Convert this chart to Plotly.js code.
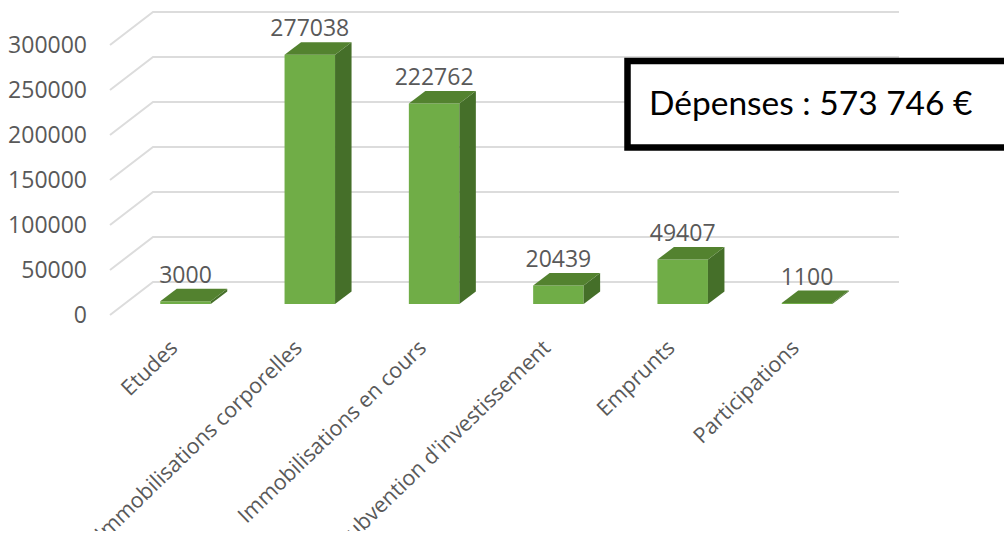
<!DOCTYPE html>
<html>
<head>
<meta charset="utf-8">
<script src="https://cdn.plot.ly/plotly-3.0.1.min.js"></script>
<style>html,body{margin:0;padding:0;background:#fff;overflow:hidden}#chart{width:1004px;height:537px}</style>
</head>
<body>
<div id="chart"></div>
<script>
// Data
const categories = ["Etudes", "Immobilisations corporelles", "Immobilisations en cours", "Subvention d'investissement", "Emprunts", "Participations"];
const depenses = [3000, 277038, 222762, 20439, 49407, 1100];
const axisTicks = [0, 50000, 100000, 150000, 200000, 250000, 300000];
const calloutText = "Dépenses : 573 746 €";

// Page geometry, in pixels
const W = 1004, H = 537, plotLeft = 88, plotBottom = 330;
const pxPerCat = 124.3, firstCatPx = 185.5, barPx = 50.5;
const pxPerUnit = 0.0009, tickZeroPx = 315, barZeroPx = 304;
const depthX = 16.5, depthY = 12.5;      // bar depth
const wallX0 = 110, wallX1 = 153, wallX2 = 899, wallRise = 33; // floor wall

const dxCat = p => p / pxPerCat;
const dyVal = p => p / pxPerUnit;
const xPx = p => (p - firstCatPx) / pxPerCat;
const idx = categories.map((_, i) => i);
const halfW = dxCat(barPx / 2), bw = 2 * halfW;

const GREEN = "#70ad47", TOP = "#53822f", SIDE = "#456f29", GRID = "#dcdcdc", TXT = "#595959";
const FONT = "Open Sans";

const traces = [];
// Gridlines: wall slant then back wall
axisTicks.forEach(t => traces.push({
  type: "scatter", mode: "lines", xaxis: "x", yaxis: "y",
  x: [xPx(wallX0), xPx(wallX1), xPx(wallX2)],
  y: [t, t + dyVal(wallRise), t + dyVal(wallRise)],
  line: {color: GRID, width: 2}, hoverinfo: "skip", showlegend: false
}));
// Front faces
traces.push({
  type: "bar", xaxis: "x", yaxis: "y2", x: idx, y: depenses, width: bw,
  marker: {color: GREEN, line: {width: 0}}, showlegend: false, hoverinfo: "x+y"
});
// Side and top faces
depenses.forEach((v, i) => {
  const l = i - halfW, r = i + halfW, dx = dxCat(depthX), dy = dyVal(depthY);
  traces.push({
    type: "scatter", mode: "lines", fill: "toself", fillcolor: SIDE, xaxis: "x", yaxis: "y2",
    x: [r, r, r + dx, r + dx, r], y: [0, v, v + dy, dy, 0],
    line: {width: 0, color: SIDE}, hoverinfo: "skip", showlegend: false
  });
  traces.push({
    type: "scatter", mode: "lines", fill: "toself", fillcolor: TOP, xaxis: "x", yaxis: "y2",
    x: [l, r, r + dx, l + dx, l], y: [v, v, v + dy, v + dy, v],
    line: {width: 0, color: TOP}, hoverinfo: "skip", showlegend: false
  });
});
// Data labels
traces.push({
  type: "scatter", mode: "text", xaxis: "x", yaxis: "y2",
  x: idx, y: depenses.map(v => v + dyVal(depthY)), text: depenses.map(String),
  textposition: "top center", textfont: {family: FONT, size: 23, color: TXT},
  hoverinfo: "skip", showlegend: false
});

const plotW = W - plotLeft;
const layout = {
  width: W, height: H,
  margin: {l: plotLeft, r: 0, t: 0, b: H - plotBottom, pad: 0},
  paper_bgcolor: "#fff", plot_bgcolor: "#fff",
  showlegend: false,
  font: {family: FONT, color: TXT},
  xaxis: {
    range: [xPx(plotLeft), xPx(W)], tickmode: "array", tickvals: idx, ticktext: categories,
    tickangle: -44, tickfont: {family: FONT, size: 21.5, color: TXT}, ticklabelshift: -14,
    showgrid: false, zeroline: false, showline: false, ticks: "", automargin: false
  },
  yaxis: {
    range: [-(plotBottom - tickZeroPx) / pxPerUnit, tickZeroPx / pxPerUnit],
    tickmode: "array", tickvals: axisTicks, ticktext: axisTicks.map(String),
    tickfont: {family: FONT, size: 23, color: TXT},
    showgrid: false, zeroline: false, showline: false, ticks: "", automargin: false
  },
  yaxis2: {
    overlaying: "y", range: [-(plotBottom - barZeroPx) / pxPerUnit, barZeroPx / pxPerUnit],
    visible: false, showgrid: false, zeroline: false
  },
  shapes: [{
    type: "rect", layer: "above", xref: "paper", yref: "paper",
    x0: (627.5 - plotLeft) / plotW, x1: (1030 - plotLeft) / plotW,
    y0: 1 - 147.5 / plotBottom, y1: 1 - 61 / plotBottom,
    fillcolor: "#fff", line: {color: "#000", width: 6.5}
  }, {
    type: "rect", layer: "above", xref: "paper", yref: "paper",
    x0: -plotLeft / plotW, x1: 1,
    y0: 1 - 540 / plotBottom, y1: 1 - 531 / plotBottom,
    fillcolor: "#fff", line: {width: 0}
  }],
  annotations: [{
    xref: "paper", yref: "paper", xanchor: "left", yanchor: "middle", showarrow: false,
    x: (647 - plotLeft) / plotW, y: 1 - 102 / plotBottom,
    text: calloutText, font: {family: "Lato", size: 33.5, color: "#000"}
  }]
};
Plotly.newPlot("chart", traces, layout, {displayModeBar: false, staticPlot: true});
</script>
</body>
</html>
